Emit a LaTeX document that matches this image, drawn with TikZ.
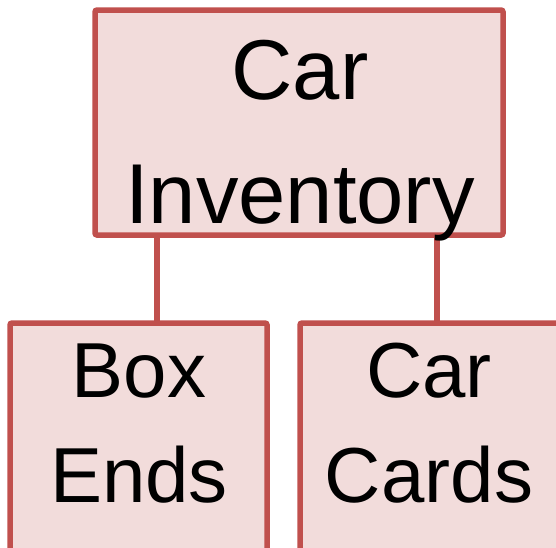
\documentclass[tikz,border=0pt]{standalone}
\usepackage{fontspec}
\setmainfont{Liberation Sans}
\usetikzlibrary{shadows}
\definecolor{boxfill}{HTML}{F2DCDB}
\definecolor{boxline}{HTML}{C0504D}
\begin{document}
\begin{tikzpicture}[x=1pt,y=-1pt,
  orgbox/.style={draw=boxline, fill=boxfill, line width=5.5pt, rounded corners=2pt, inner sep=0pt, outer sep=0pt,
    drop shadow={opacity=0.25, shadow xshift=2pt, shadow yshift=-2pt}},
  bigtext/.style={font=\fontsize{85}{124}\selectfont, align=center, inner sep=0pt, anchor=north},
  smalltext/.style={font=\fontsize{78}{105}\selectfont, align=center, inner sep=0pt, anchor=north},
  link/.style={draw=boxline, line width=5.5pt}]
\useasboundingbox (0,0) rectangle (556,547);
\clip (0,0) rectangle (556,547);
\node[orgbox, minimum width=408pt, minimum height=225pt] (inv) at (299,122.5) {};
\node[orgbox, minimum width=257pt, minimum height=260pt, anchor=north west] (ends) at (10,323) {};
\node[orgbox, minimum width=262pt, minimum height=260pt, anchor=north west] (cards) at (300,323) {};
\coordinate (j1) at (157,0);
\coordinate (j2) at (437,0);
\draw[link] (inv.south -| j1) -- (ends.north -| j1);
\draw[link] (inv.south -| j2) -- (cards.north -| j2);
\node[bigtext] (invtext) at (300,40) {Car\\Inventory};
\node[smalltext] (endstext) at (139,344) {Box\\Ends};
\node[smalltext] (cardstext) at (429,343) {Car\\Cards};
\end{tikzpicture}
\end{document}
